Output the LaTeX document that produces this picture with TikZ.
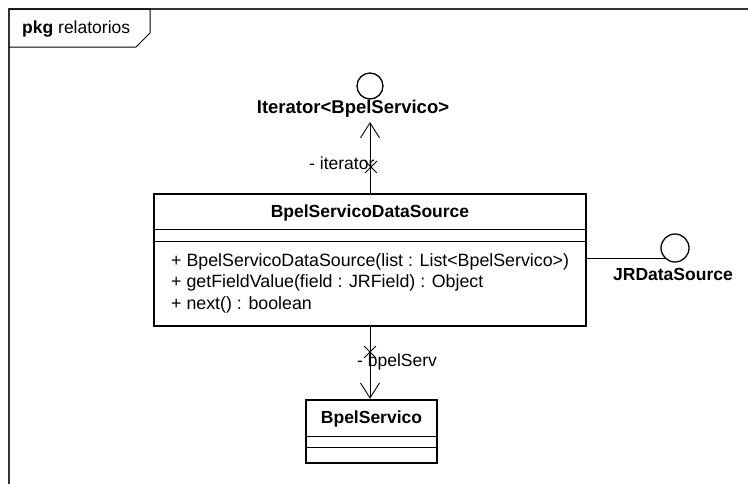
\documentclass[tikz,border=0pt]{standalone}
\usepackage{fontspec}
\setmainfont{Liberation Sans}
\usetikzlibrary{arrows.meta,shapes.misc}

\begin{document}
\begin{tikzpicture}[x=1pt, y=-1pt,
  classbox/.style={rectangle, draw, line width=2.4pt, inner sep=0pt},
  iface/.style={circle, draw, line width=1.3pt, minimum size=26pt, inner sep=0pt},
  title/.style={font=\fontsize{17.5}{21}\selectfont\bfseries, inner sep=0pt},
  txt/.style={font=\fontsize{17.5}{21.5}\selectfont, inner sep=0pt},
  nonav/.style={cross out, draw, line width=0.8pt, minimum size=11pt, inner sep=0pt},
  assoc/.style={line width=0.9pt, -{Straight Barb[length=15pt, width=19pt, line width=0.9pt]}}
]

\useasboundingbox (0,0) rectangle (748,483);

\draw[line width=1.8pt, black!80] (760,9) -- (9,9) -- (9,495);
\draw[line width=1pt] (9,9) -- (150,9) -- (150,33) -- (136,47) -- (9,47);
\node (pkg)[txt, anchor=west] at (22,29) {\textbf{pkg} relatorios};

\node (ds)[classbox, minimum width=432pt, minimum height=132pt] at (370,260) {};
\node (dsname)[title] at (370,213) {BpelServicoDataSource};
\draw[line width=0.9pt] (ds.west |- 0,229) -- (ds.east |- 0,229);
\draw[line width=0.9pt] (ds.west |- 0,241) -- (ds.east |- 0,241);
\node (dsops)[txt, font=\fontsize{17.8}{21.5}\selectfont, anchor=west, align=left] at (171,283) {+ BpelServicoDataSource(list : List<BpelServico>)\\+ getFieldValue(field : JRField) : Object\\+ next() : boolean};

\node (bs)[classbox, minimum width=131pt, minimum height=63pt] at (371.5,431.5) {};
\node (bsname)[title] at (371.5,419) {BpelServico};
\draw[line width=0.9pt] (bs.west |- 0,436) -- (bs.east |- 0,436);
\draw[line width=0.9pt] (bs.west |- 0,447) -- (bs.east |- 0,447);

\node (it)[iface] at (370,86) {};
\node (itname)[title, font=\fontsize{18.5}{21}\selectfont\bfseries] at (353,109) {Iterator<BpelServico>};

\node (jr)[iface, minimum size=28pt] at (675,248) {};
\node (jrname)[title] at (673,274) {JRDataSource};

\node (itrole)[txt, anchor=west] at (309,163) {- iterator};
\node (itx)[nonav] at (371,167) {};
\draw[assoc] (ds.north) -- (ds.north |- 0,122);

\node (bsrole)[txt, anchor=west] at (357,362) {- bpelServ};
\node (bsx)[nonav] at (370,352) {};
\draw[assoc] (ds.south) -- (ds.south |- bs.north);

\draw[line width=0.9pt] (ds.east |- jr.225) -- (jr.225);

\end{tikzpicture}
\end{document}
